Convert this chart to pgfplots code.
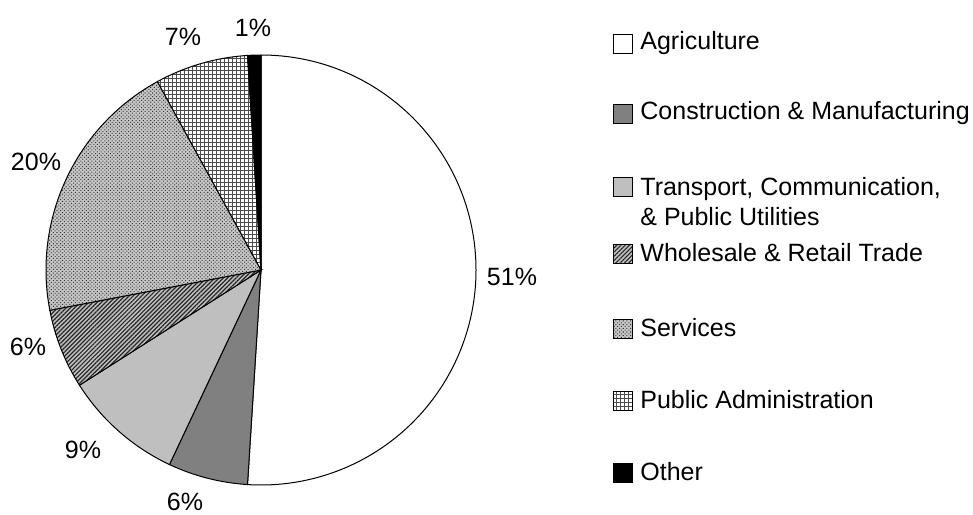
\documentclass[border=0pt]{standalone}
\usepackage{fontspec}
\setmainfont{Liberation Sans}
\usepackage{pgfplots}
\usepackage{pgfplotstable}
\pgfplotsset{compat=1.18}
\usetikzlibrary{patterns.meta}
\tikzset{
  wedge/.style={draw=black, line width=0.5pt},
  agri/.style={wedge, fill=white},
  constr/.style={wedge, fill=black!50},
  transp/.style={wedge, fill=black!25},
  whole/.style={wedge, preaction={fill=black!25}, pattern={Lines[angle=45,distance=1.5pt,line width=0.6pt]}, pattern color=black!85},
  serv/.style={wedge, preaction={fill=black!22}, pattern={Dots[angle=45,distance=1.3pt,radius=0.36pt]}, pattern color=black!80},
  pubad/.style={wedge, preaction={fill=white}, pattern={Hatch[angle=0,distance=2pt,line width=0.35pt]}, pattern color=black!70},
  other/.style={wedge, fill=black},
  lbl/.style={font=\fontsize{12.5}{14}\selectfont, inner sep=0pt},
}
\pgfplotstableread{
share style  lx  ly
51    agri   512 277
6     constr 185 502
9     transp 83  450
6     whole  28  347
20    serv   36  162
7     pubad  183 37
1     other  253 28
}\piedata
\begin{document}
\begin{tikzpicture}
\begin{axis}[
  scale only axis, width=486.5pt, height=257pt,
  xmin=0, xmax=973, ymin=0, ymax=514, y dir=reverse,
  hide axis, clip=false,
]
\def\cum{90}
\pgfplotsforeachungrouped \i in {0,...,6}{%
  \pgfplotstablegetelem{\i}{share}\of\piedata \let\v\pgfplotsretval
  \pgfplotstablegetelem{\i}{style}\of\piedata \let\s\pgfplotsretval
  \pgfplotstablegetelem{\i}{lx}\of\piedata \let\lx\pgfplotsretval
  \pgfplotstablegetelem{\i}{ly}\of\piedata \let\ly\pgfplotsretval
  \pgfmathsetmacro\endang{\cum-3.6*\v}%
  \edef\temp{\noexpand\draw[\s] (axis cs:261,270) -- ++(\cum:107.5pt) arc[start angle=\cum, end angle=\endang, radius=107.5pt] -- cycle;
    \noexpand\node[lbl] at (axis cs:\lx,\ly) {\v\noexpand\%};}%
  \temp
  \let\cum\endang
}
% legend
\draw[agri]   (axis cs:613,34)  rectangle (axis cs:632,53);
\draw[constr] (axis cs:613,104) rectangle (axis cs:632,123);
\draw[transp] (axis cs:613,177) rectangle (axis cs:632,196);
\draw[whole]  (axis cs:613,244) rectangle (axis cs:632,263);
\draw[serv]   (axis cs:613,319) rectangle (axis cs:632,338);
\draw[pubad]  (axis cs:613,391) rectangle (axis cs:632,410);
\draw[other]  (axis cs:613,463) rectangle (axis cs:632,482);
\node[lbl, anchor=west] at (axis cs:640,43) {Agriculture};
\node[lbl, anchor=west] at (axis cs:640,113) {Construction \& Manufacturing};
\node[lbl, anchor=west, align=left, font=\fontsize{12.5}{15}\selectfont] at (axis cs:640,202) {Transport, Communication,\\\& Public Utilities};
\node[lbl, anchor=west] at (axis cs:640,253) {Wholesale \& Retail Trade};
\node[lbl, anchor=west] at (axis cs:640,328) {Services};
\node[lbl, anchor=west] at (axis cs:640,400) {Public Administration};
\node[lbl, anchor=west] at (axis cs:640,472) {Other};
\end{axis}
\pgfresetboundingbox
\path (0,0) rectangle (486.5pt,257pt);
\end{tikzpicture}
\end{document}
